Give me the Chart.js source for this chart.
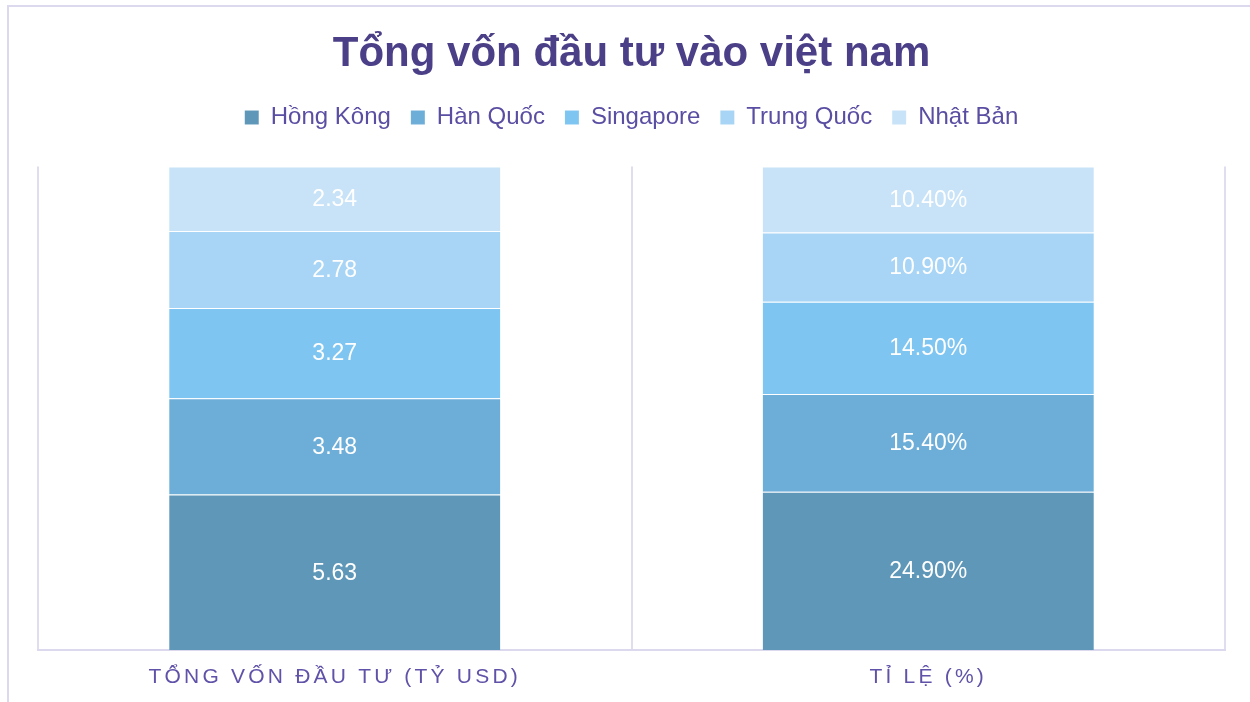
<!DOCTYPE html>
<html>
<head>
<meta charset="utf-8">
<script src="https://cdn.jsdelivr.net/npm/chart.js@4"></script>
<style>
html,body{margin:0;padding:0;background:#fff;}
#wrap{position:relative;width:1250px;height:702px;overflow:hidden;}
canvas{display:block;}
</style>
</head>
<body>
<div id="wrap"><canvas id="c" width="1250" height="702"></canvas></div>
<script>
// ---- data ----
const categories = ['TỔNG VỐN ĐẦU TƯ (TỶ USD)', 'TỈ LỆ (%)'];
const seriesNames = ['Hồng Kông', 'Hàn Quốc', 'Singapore', 'Trung Quốc', 'Nhật Bản'];
const capitalBillionUSD = [5.63, 3.48, 3.27, 2.78, 2.34];
const sharePercent = [24.9, 15.4, 14.5, 10.9, 10.4];
const seriesColors = ['#5E97B8', '#6DAED8', '#7EC5F2', '#A8D5F5', '#C8E3F8'];
const chartTitle = 'Tổng vốn đầu tư vào việt nam';

// 100% stacked: each column normalised to its own total
const capTotal = capitalBillionUSD.reduce((a, b) => a + b, 0);
const shareTotal = sharePercent.reduce((a, b) => a + b, 0);

const datasets = seriesNames.map((name, i) => ({
  label: name,
  data: [capitalBillionUSD[i] / capTotal * 100, sharePercent[i] / shareTotal * 100],
  rawLabels: [capitalBillionUSD[i].toFixed(2), sharePercent[i].toFixed(2) + '%'],
  backgroundColor: seriesColors[i],
  borderColor: 'rgba(255,255,255,0.3)',
  borderWidth: {top: 1, bottom: 0, left: 0, right: 0},
  borderSkipped: false,
  categoryPercentage: 1,
  barPercentage: 0.558
}));

const FONT = '"Liberation Sans", Arial, sans-serif';

const framePlugin = {
  id: 'frame',
  beforeDraw(chart) {
    const ctx = chart.ctx;
    ctx.save();
    ctx.fillStyle = '#ffffff';
    ctx.fillRect(0, 0, chart.width, chart.height);
    ctx.strokeStyle = '#dcd9ef';
    ctx.lineWidth = 2;
    ctx.beginPath();
    ctx.moveTo(8, chart.height);
    ctx.lineTo(8, 6);
    ctx.lineTo(chart.width, 6);
    ctx.stroke();
    ctx.restore();
    // letter-spaced category labels
    const sx = chart.scales.x;
    if (sx && !sx._lsWrapped) {
      const orig = sx.drawLabels;
      sx.drawLabels = function (area) {
        this.ctx.save();
        this.ctx.letterSpacing = '3.2px';
        orig.call(this, area);
        this.ctx.restore();
      };
      sx._lsWrapped = true;
    }
  }
};

const valueLabelPlugin = {
  id: 'valueLabels',
  afterDatasetsDraw(chart) {
    const ctx = chart.ctx;
    ctx.save();
    ctx.font = '23px ' + FONT;
    ctx.fillStyle = '#ffffff';
    ctx.textAlign = 'center';
    ctx.textBaseline = 'middle';
    chart.data.datasets.forEach((ds, di) => {
      const meta = chart.getDatasetMeta(di);
      meta.data.forEach((bar, j) => {
        const p = bar.getProps(['x', 'y', 'base'], true);
        ctx.fillText(ds.rawLabels[j], p.x, (p.y + p.base) / 2 + 1);
      });
    });
    ctx.restore();
  }
};

new Chart(document.getElementById('c'), {
  type: 'bar',
  data: { labels: categories, datasets },
  plugins: [framePlugin, valueLabelPlugin],
  options: {
    responsive: false,
    animation: false,
    devicePixelRatio: 1,
    layout: { padding: { left: 38, right: 25, top: 0, bottom: 0 } },
    plugins: {
      tooltip: { enabled: false },
      title: {
        display: true,
        text: chartTitle,
        color: '#4B3F87',
        font: { family: FONT, size: 42, weight: 'bold' },
        padding: { top: 29, bottom: 6 }
      },
      legend: {
        display: true,
        position: 'top',
        labels: {
          color: '#5A4EA3',
          font: { family: FONT, size: 24 },
          boxWidth: 14,
          boxHeight: 14,
          padding: 20
        }
      }
    },
    scales: {
      x: {
        stacked: true,
        offset: true,
        grid: { display: true, offset: true, color: '#e0ddf1', lineWidth: 2, drawTicks: false },
        border: { display: true, color: '#dcd9ef', width: 2 },
        ticks: {
          color: '#6052A8',
          font: { family: FONT, size: 21 },
          padding: 15,
          maxRotation: 0,
          autoSkip: false
        },
        afterFit(scale) { scale.height = 52; }
      },
      xTopSpace: {
        type: 'category',
        position: 'top',
        display: true,
        offset: true,
        grid: { display: false, drawTicks: false },
        border: { display: false },
        ticks: { display: false },
        afterFit(scale) { scale.height = 27; }
      },
      y: {
        stacked: true,
        display: false,
        min: 0,
        max: 100
      }
    }
  }
});
</script>
</body>
</html>
